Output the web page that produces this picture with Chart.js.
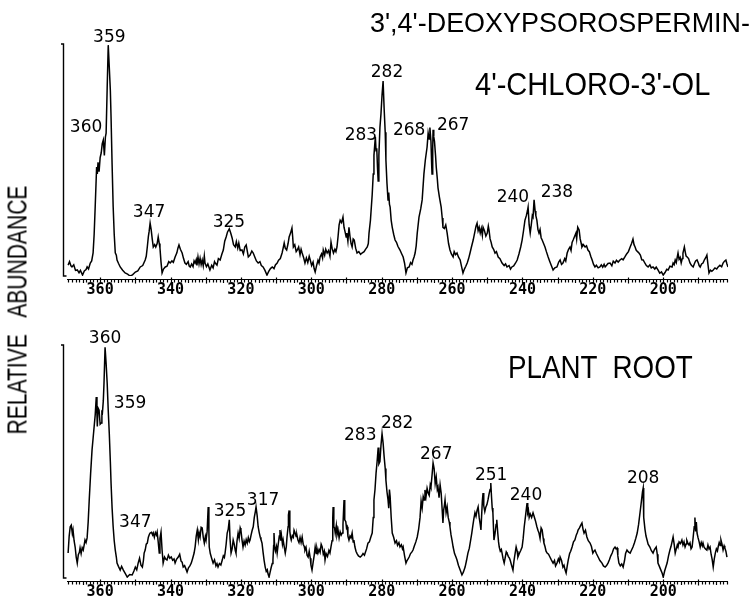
<!DOCTYPE html>
<html><head><meta charset="utf-8">
<script src="https://cdn.jsdelivr.net/npm/chart.js@4.4.1/dist/chart.umd.min.js"></script>
<style>
html,body{margin:0;padding:0;background:#fff;width:754px;height:605px;overflow:hidden;}
#wrap{position:relative;width:754px;height:605px;}
canvas{position:absolute;left:0;}
.t{position:absolute;font-family:"Liberation Sans",Arial,sans-serif;color:#000;white-space:pre;line-height:1;transform-origin:0 0;}
#ylab{position:absolute;left:18px;top:310px;font-family:"Liberation Sans",Arial,sans-serif;font-size:27px;line-height:1;white-space:pre;color:#000;transform:translate(-50%,-50%) rotate(-90deg) scaleX(0.78);}
</style></head><body>
<div id="wrap">
<canvas id="cTop" width="754" height="300" style="top:0"></canvas>
<canvas id="cBot" width="754" height="305" style="top:300px"></canvas>
<div class="t" id="t1" style="left:370px;top:9px;font-size:28px" data-w="380">3',4'-DEOXYPSOROSPERMIN-</div>
<div class="t" id="t2" style="left:475px;top:68px;font-size:32px" data-w="235">4'-CHLORO-3'-OL</div>
<div class="t" id="t3" style="left:508px;top:351px;font-size:32px" data-w="185">PLANT  ROOT</div>
<div id="ylab">RELATIVE   ABUNDANCE</div>
</div>
<script>
// ---- data: [m/z, relative abundance %] ----
const topScan = [
[369.1,4.7],[368.7,6.2],[368.3,4.4],[368.0,3.9],[367.5,4.8],[367.0,2.4],[366.5,2.6],[366.0,1.4],[365.6,2.4],[365.0,0.4],
[364.5,2.2],[364.0,2.8],[363.7,3.9],[363.3,3.0],[362.8,5.6],[362.4,6.5],[362.0,10],[361.7,18],[361.4,30],[361.0,47],
[360.8,44],[360.6,49],[360.3,45],[360.0,51],[359.7,53],[359.4,57],[359.1,58.6],[358.8,52],[358.5,60],[358.3,61.6],
[358.0,81],[357.7,99.5],[357.4,90],[357.1,80],[356.9,68.5],[356.6,48],[356.3,30],[356.0,18],[355.7,10],[355.4,9],
[355.2,6.9],[354.8,5.5],[354.3,3.9],[353.6,2.5],[352.9,1.3],[352.2,0.8],[351.5,0],[350.8,0.5],[350.0,1.7],[349.3,2.2],
[348.6,3.9],[347.9,4.5],[347.2,6.9],[346.9,8.5],[346.6,12.5],[346.3,17],[346.1,19],[345.8,22.8],[345.5,20],[345.2,16],
[344.9,12.5],[344.5,13.5],[344.2,12.5],[343.8,14],[343.5,16.8],[343.2,14],[343.0,12],[342.7,6],[342.4,1.3],[342.0,3],
[341.5,3.9],[341.0,4.2],[340.5,6.2],[340.1,5.6],[339.6,6.5],[339.2,5.9],[338.7,8.2],[338.2,10],[337.9,12],[337.6,13.4],
[337.2,11.5],[336.7,9.9],[336.3,7.5],[335.9,5.6],[335.5,5.0],[335.0,6.2],[334.7,4.3],[334.4,3.9],[334.0,5.2],[333.6,4.0],
[333.3,6.5],[333.0,5.6],[332.7,7.0],[332.5,4.6],[332.2,8.2],[331.9,5.2],[331.6,7.6],[331.3,4.9],[331.0,6.9],[330.7,4.4],
[330.4,8.6],[330.2,5.6],[329.8,4.0],[329.4,5.2],[328.8,2.6],[328.3,4.6],[327.9,3.5],[327.5,6.2],[327.3,5.6],[326.8,4.7],
[326.4,7.5],[325.9,6.9],[325.4,9.5],[325.0,11.2],[324.6,15],[324.2,16.8],[323.8,19],[323.3,20.3],[322.9,18.5],[322.5,16.4],
[322.1,13.5],[321.6,12.5],[321.3,14.8],[320.9,12.0],[320.6,14.2],[320.2,11.0],[319.7,11.2],[319.3,9.5],[318.9,12.5],[318.5,13.4],
[318.2,10.8],[317.9,8.2],[317.4,9.0],[316.9,10.8],[316.5,9.9],[316.0,8.0],[315.6,6.5],[315.1,5.6],[314.6,6.2],[314.2,4.5],
[313.7,3.9],[313.2,2.5],[312.6,0.4],[312.1,2.0],[311.6,3.2],[311.1,3.9],[310.6,3.2],[310.2,4.8],[309.7,5.6],[309.3,6.8],
[308.8,7.5],[308.3,9.9],[308.0,12],[307.7,14.2],[307.4,12],[307.0,11.2],[306.6,14],[306.3,16.8],[305.9,18.5],[305.5,20.7],
[305.3,17],[305.1,12.5],[304.7,13.5],[304.3,10.5],[304.0,11.2],[303.6,12.5],[303.2,9.2],[302.9,11.5],[302.6,9.9],[302.2,8.0],
[301.8,5.6],[301.4,7.8],[301.0,5.8],[300.6,8.5],[300.3,6.9],[299.9,4.5],[299.5,6.0],[299.2,3.2],[298.9,1.7],[298.5,4.5],
[298.1,6.8],[297.8,5.5],[297.5,8.2],[297.1,9.5],[296.8,7.8],[296.6,11.2],[296.2,9.0],[295.9,11.5],[295.5,9.9],[295.1,11.0],
[294.7,8.5],[294.4,14.6],[294.1,12],[293.7,9.9],[293.3,11.5],[293.0,10.5],[292.7,12.5],[292.4,17],[292.1,22],[291.8,24],
[291.4,23],[291.0,25.4],[290.7,21],[290.4,19],[290.1,16.8],[289.9,18.5],[289.6,15],[289.3,21],[289.0,17],[288.7,14],
[288.4,12.5],[288.1,16],[287.8,15.5],[287.4,12],[287.0,9.9],[286.5,10.5],[286.0,9.3],[285.6,9.9],[285.0,10.5],[284.6,11.5],
[284.1,12.5],[283.8,14],[283.6,18.5],[283.2,24],[282.7,35],[282.4,44],[282.2,52],[281.8,60],[281.6,54],[281.4,55],
[281.2,47],[281.0,41],[280.8,52],[280.5,64],[280.2,70],[279.9,78],[279.6,84],[279.3,72],[279.0,62],[278.8,50],
[278.5,40],[278.2,32.8],[278.0,36],[277.8,31],[277.6,29.7],[277.3,24],[277.0,21],[276.6,18],[276.2,15.5],[275.8,14.5],
[275.4,12.8],[274.8,11.2],[274.3,9.5],[273.9,8.2],[273.5,5.5],[273.1,1.3],[272.7,3.5],[272.2,3.9],[271.8,5.8],[271.4,5.0],
[271.1,6.9],[270.8,8.2],[270.5,9.9],[270.2,13],[269.9,18.5],[269.4,25.4],[268.9,29],[268.5,32.8],[268.0,44],[267.6,50],
[267.1,55.6],[266.8,61.6],[266.5,59],[266.3,64],[266.0,58],[265.8,48],[265.7,44],[265.5,55],[265.4,63],[265.2,60],
[265.0,58],[264.7,52],[264.5,47],[264.2,42],[264.0,38],[263.6,34],[263.1,29.7],[262.8,25],[262.6,21],[262.2,20.5],
[261.8,22],[261.4,18.5],[261.0,14],[260.6,11.2],[260.2,9.5],[259.7,8.2],[259.4,10.5],[259.0,9.2],[258.6,9.9],[258.2,8.2],
[257.7,6.9],[257.3,4.0],[256.9,1.3],[256.5,3.0],[256.1,4.2],[255.7,5.6],[255.3,7.5],[254.9,9.9],[254.5,12.5],[254.0,15.5],
[253.6,18.5],[253.2,21.5],[252.9,22.8],[252.6,19.5],[252.3,21.0],[252.0,18.5],[251.7,20.5],[251.4,17.5],[251.2,21],[250.8,19.5],
[250.4,17.2],[250.0,18.5],[249.7,21.5],[249.5,19.8],[249.2,16],[248.9,14.5],[248.6,12.5],[248.2,11.5],[247.8,9.9],[247.4,10.5],
[246.9,8.2],[246.4,7.5],[245.8,5.6],[245.2,4.5],[244.8,5.2],[244.4,3.9],[243.8,4.5],[243.4,3.0],[243.0,3.9],[242.5,4.3],
[242.0,5.5],[241.5,6.9],[241.0,9.5],[240.5,12.5],[240.1,15.5],[239.7,19.5],[239.3,24],[238.9,26],[238.6,28],[238.4,29.7],
[238.1,22],[237.8,18.5],[237.5,22],[237.2,26],[237.0,25.4],[236.7,32.8],[236.4,28],[236.2,26],[235.9,24],[235.6,20],
[235.3,18.5],[235.0,20],[234.7,16.5],[234.4,15.5],[234.0,14],[233.6,12.5],[233.2,10.5],[232.7,8.2],[232.3,6.5],[231.8,4.5],
[231.3,2.6],[230.8,3.5],[230.2,3.9],[229.7,6.0],[229.3,6.9],[228.9,5.0],[228.5,5.6],[228.0,7.5],[227.7,6.5],[227.3,9.9],
[226.9,11.5],[226.5,12.5],[226.2,11.0],[225.9,14.5],[225.6,15.5],[225.2,17],[224.8,18.5],[224.6,16],[224.3,21],[223.9,19.8],
[223.6,16],[223.3,14],[223.1,12.5],[222.7,13.5],[222.2,12.5],[221.8,13.0],[221.4,11.2],[221.0,10.5],[220.6,8.5],[220.2,6.9],
[219.8,5.0],[219.4,3.9],[219.0,4.6],[218.5,3.5],[218.0,3.9],[217.6,4.8],[217.2,3.8],[216.8,5.0],[216.5,3.9],[216.1,4.6],
[215.7,5.4],[215.1,5.6],[214.6,4.4],[214.2,6.4],[213.7,5.6],[213.3,6.8],[212.8,6.0],[212.3,6.9],[211.8,7.5],[211.4,7.0],
[210.9,8.2],[210.4,9.5],[209.9,10.5],[209.4,12.5],[209.0,14],[208.6,15.9],[208.3,13.5],[208.0,12.5],[207.7,11.2],[207.3,10.5],
[206.9,9.9],[206.5,9.0],[206.1,7.0],[205.7,6.9],[205.2,5.5],[204.8,4.5],[204.3,3.9],[203.8,4.8],[203.4,3.5],[202.9,3.9],
[202.4,3.0],[202.0,3.8],[201.5,2.6],[201.0,1.2],[200.5,1.8],[200.0,0.4],[199.5,1.5],[199.0,2.9],[198.6,2.6],[198.1,4.2],
[197.5,3.9],[197.2,5.6],[196.9,4.9],[196.6,6.9],[196.3,5.8],[196.0,8.3],[195.8,9.9],[195.5,7.2],[195.2,8.0],[194.9,5.6],
[194.6,7.5],[194.4,9.9],[194.0,12.5],[193.7,10.0],[193.5,8.6],[193.2,8.2],[192.8,7.5],[192.4,5.6],[192.0,4.6],[191.5,3.9],
[191.1,5.5],[190.8,6.5],[190.4,6.9],[190.0,5.5],[189.8,4.5],[189.5,3.9],[189.1,5.2],[188.7,5.6],[188.3,7.0],[187.9,8.0],
[187.6,9],[187.3,5.0],[187.0,1.3],[186.6,2.5],[186.2,2.0],[185.8,2.6],[185.3,3.5],[184.8,3.0],[184.4,3.9],[183.9,4.6],
[183.4,4.0],[183.0,5.6],[182.6,6.4],[182.2,6.9],[181.9,5.2],[181.6,3.9]
];
const rootScan = [
[369.1,10.7],[368.8,18],[368.5,22],[368.2,22.7],[367.9,19],[367.7,20.6],[367.4,16],[367.1,13.3],[366.8,9],[366.5,6.4],
[366.2,10],[365.9,11],[365.7,12.9],[365.4,10.5],[365.1,13],[364.8,12],[364.5,14.5],[364.3,16.3],[364.0,15.2],[363.7,17.2],
[363.4,24],[363.1,33.5],[362.7,45],[362.3,55],[362.0,60],[361.7,65],[361.4,70],[361.1,77.7],[360.9,70],[360.8,65],
[360.6,73],[360.3,72],[360.0,66],[359.7,66.5],[359.5,72],[359.4,70],[359.1,76],[358.9,83.7],[358.6,99],[358.3,92],
[358.0,83.7],[357.7,72],[357.4,62],[357.1,50],[356.9,40.8],[356.6,30],[356.3,22],[356.0,16],[355.7,12],[355.4,9],
[355.2,6.4],[354.8,5],[354.3,3.4],[353.9,5],[353.4,3.4],[352.8,1.8],[352.3,0.4],[351.6,1.5],[350.9,1.3],[350.4,3.0],
[350.0,4.7],[349.6,3.5],[349.2,6.4],[348.8,8.5],[348.4,5.5],[348.0,4.7],[347.7,7.5],[347.5,10.7],[347.2,12],[346.9,14.5],
[346.6,15],[346.3,17.5],[346.0,18.8],[345.8,19.3],[345.4,19.6],[345.1,18.5],[344.9,19.3],[344.6,17.5],[344.3,19.5],[344.0,18.5],
[343.8,19.7],[343.5,15.5],[343.2,10.7],[343.0,17],[342.7,19.7],[342.4,12],[342.1,6.4],[341.7,9.0],[341.4,8.2],[341.0,7.7],
[340.6,9.8],[340.2,8.5],[339.8,9],[339.4,7.6],[339.0,8.2],[338.7,6.4],[338.3,8.0],[337.8,9],[337.4,10.2],[337.0,7.2],
[336.7,6.8],[336.4,4.7],[336.0,5.3],[335.6,3.8],[335.3,2.6],[334.9,4.4],[334.5,5.2],[334.1,6.4],[333.7,8.5],[333.3,10.7],
[333.0,13.5],[332.7,18],[332.4,20.6],[332.1,16.5],[331.9,19.5],[331.6,17.6],[331.3,21.8],[331.0,21.5],[330.7,17.5],[330.4,15],
[330.1,17.8],[329.9,16.3],[329.6,20],[329.3,30.5],[329.1,20],[329.0,13.3],[328.7,10.5],[328.3,8.4],[327.9,6.4],[327.5,7.8],
[327.1,5.2],[326.8,6.2],[326.5,4.7],[326.1,6.2],[325.7,5.6],[325.3,7.7],[325.0,9.5],[324.7,8.8],[324.5,10.7],[324.2,14.5],
[323.9,19.3],[323.6,21],[323.3,25],[323.1,17],[322.8,10.7],[322.5,12.5],[322.2,16.3],[321.9,14.5],[321.6,11.8],[321.4,10.7],
[321.1,16],[320.8,19.3],[320.5,17],[320.2,21.5],[320.0,20.6],[319.7,16.5],[319.4,13.3],[319.1,15.8],[318.8,14.2],[318.5,16.5],
[318.2,15],[317.9,17.3],[317.6,15.6],[317.4,16.3],[317.1,18.5],[316.8,20.5],[316.5,22],[316.2,26],[315.9,28.5],[315.7,30.5],
[315.4,27],[315.1,22],[314.8,19.5],[314.5,17.5],[314.3,16.5],[314.0,15],[313.7,11],[313.4,7.5],[313.1,4.7],[312.8,2.8],
[312.5,3.5],[312.3,1.8],[312.0,0.4],[311.7,2.5],[311.4,4.5],[311.1,6.2],[310.9,7.7],[310.7,14],[310.6,19.3],[310.4,13],
[310.2,11.5],[309.9,13.5],[309.7,10.7],[309.4,14.5],[309.1,18],[308.9,20.6],[308.7,16],[308.5,18.5],[308.2,14.5],[308.0,16.3],
[307.7,13.5],[307.4,10.7],[307.1,13.5],[306.9,17.6],[306.6,22],[306.5,27],[306.3,29],[306.1,20],[305.9,17.5],[305.7,16.3],
[305.4,18.2],[305.1,17.5],[304.9,20.5],[304.6,19.3],[304.3,17.8],[304.1,18.5],[303.8,16.3],[303.5,15.2],[303.2,17.4],[302.9,15.2],
[302.6,17.6],[302.3,14.5],[302.0,13.5],[301.8,12],[301.5,13.2],[301.2,9.8],[300.9,9],[300.6,11.5],[300.3,8.5],[300.1,5.5],
[299.8,3.4],[299.5,6.5],[299.2,9.5],[298.9,13.3],[298.6,10.5],[298.4,12.8],[298.1,10.7],[297.8,12.2],[297.5,11.0],[297.2,14.5],
[296.9,13.3],[296.6,10.2],[296.3,11.5],[296.1,7.7],[295.8,10.5],[295.4,9.2],[295.0,11.8],[294.7,10.7],[294.4,13.5],[294.1,16],
[293.9,26],[293.8,30.5],[293.6,22],[293.4,21.5],[293.2,19.3],[292.9,22.5],[292.7,18.5],[292.4,20.6],[292.1,17.2],[291.8,19.8],
[291.5,18.4],[291.2,19.3],[291.0,23],[290.8,30],[290.7,33.5],[290.5,25],[290.2,24.2],[290.0,21.5],[289.8,22],[289.6,18],
[289.3,16.3],[289.0,18],[288.7,17.2],[288.4,19.3],[288.1,15.5],[287.9,16.3],[287.6,13.3],[287.3,11.5],[287.0,10.5],[286.6,9.5],
[286.1,9],[285.7,9.5],[285.3,10.5],[284.9,9.8],[284.7,10.7],[284.3,12.5],[283.9,15],[283.5,15.5],[283.1,17.5],[282.7,19.3],
[282.4,26],[282.2,33.5],[281.9,38],[281.6,45],[281.3,50],[281.0,56],[280.8,49],[280.5,50],[280.2,57],[279.9,62],
[279.6,58],[279.3,52],[279.0,47],[278.8,42],[278.5,37],[278.2,33.5],[278.0,30],[277.8,38],[277.6,35],[277.3,26],
[277.0,19.3],[276.6,17.5],[276.2,15],[275.8,16],[275.5,14],[275.1,15.2],[274.8,13.3],[274.4,14.2],[274.1,12.5],[273.9,13.3],
[273.5,9.5],[273.1,6.4],[272.8,7.5],[272.5,8.2],[272.2,9],[271.8,10.5],[271.4,11.2],[271.1,12],[270.7,13.8],[270.3,15.5],
[269.9,17.6],[269.5,21],[269.1,26],[268.8,33],[268.5,30],[268.2,35],[267.9,33.5],[267.7,37.8],[267.4,35],[267.1,38.5],
[266.8,36.5],[266.5,35.5],[266.2,40],[266.0,39],[265.7,44],[265.4,49.4],[265.1,47],[264.8,40.5],[264.5,43.3],[264.2,38],
[264.0,39],[263.7,34.5],[263.4,40],[263.1,36.5],[262.8,29],[262.6,23.6],[262.4,29],[262.2,31],[262.0,33.5],[261.7,28],
[261.4,30.5],[261.1,26],[260.8,24],[260.6,22],[260.3,18.5],[260.0,16],[259.7,13.3],[259.3,10.5],[258.9,9],[258.6,7.7],
[258.2,5.5],[257.7,3.4],[257.2,1.3],[256.8,2.5],[256.3,4.7],[255.9,7.5],[255.5,10.7],[255.1,12.8],[254.7,16.5],[254.4,19.3],
[254.1,22.5],[253.8,25.5],[253.5,28],[253.2,26.5],[252.9,29],[252.6,30.5],[252.3,26],[252.0,23],[251.8,20.6],[251.6,27],
[251.4,33],[251.2,36.5],[251.0,31],[250.7,28.5],[250.4,30.5],[250.1,31.5],[249.8,33.5],[249.5,36],[249.2,38],[249.0,40.8],
[248.8,35],[248.6,30],[248.4,28],[248.2,20],[248.1,16.3],[247.8,19],[247.5,23],[247.3,25],[247.0,19],[246.8,15.5],
[246.6,13.3],[246.3,11.5],[246.0,12.2],[245.8,10.7],[245.5,8.2],[245.2,6.4],[244.9,8.8],[244.6,11.2],[244.4,10.7],[244.0,9.2],
[243.7,8.5],[243.5,7.7],[243.1,5.5],[242.7,3.4],[242.4,7.5],[242.1,10.5],[241.8,13.3],[241.5,11.5],[241.3,9],[240.9,10.5],
[240.5,11.8],[240.1,13.3],[239.8,17],[239.5,22],[239.1,27],[238.7,32.2],[238.5,28],[238.3,29],[238.1,26],[237.8,27.5],
[237.4,26],[237.0,28],[236.7,26.5],[236.3,24.5],[235.9,22],[235.6,20.5],[235.3,19.3],[235.0,17],[234.7,21.5],[234.4,20.6],
[234.1,17],[233.9,15],[233.6,13.5],[233.3,11.5],[233.0,10.7],[232.6,10.2],[232.2,9],[231.8,7.8],[231.3,6.4],[230.9,7.5],
[230.6,5.2],[230.2,6.4],[229.8,8.2],[229.5,7.0],[229.3,9],[228.9,7.5],[228.5,4.7],[228.2,5.5],[227.9,3.5],[227.6,2.1],
[227.3,5.0],[227.0,7.7],[226.6,10.5],[226.3,11.5],[225.9,13.3],[225.5,15.5],[225.1,16.3],[224.7,18.5],[224.4,19.5],[224.2,20.6],
[223.8,21.5],[223.5,22.5],[223.1,23.6],[222.8,21],[222.5,19.3],[222.1,20.5],[221.7,17.6],[221.3,16],[220.8,15],[220.4,13.5],
[220.0,10.7],[219.7,11.5],[219.4,12],[219.0,10.5],[218.5,9],[218.0,7.5],[217.4,6.4],[217.0,5.2],[216.5,4.7],[216.1,5.3],
[215.7,6.4],[215.3,7.8],[214.9,9.5],[214.5,10.7],[214.1,12.5],[213.7,13.3],[213.4,12.5],[213.1,12.9],[212.9,9.5],[212.6,6.4],
[212.2,5.2],[211.8,6.0],[211.4,4.7],[211.0,7.5],[210.7,10.5],[210.3,12],[209.9,11.2],[209.4,10.7],[209.0,12],[208.6,13.3],
[208.2,15],[207.8,17],[207.4,19.3],[207.0,23],[206.6,28],[206.2,33],[205.9,37],[205.7,38.6],[205.6,32],[205.5,26],
[205.2,21],[204.9,18],[204.6,16.3],[204.3,14.5],[203.8,13.3],[203.4,11.8],[202.9,10.7],[202.5,12.2],[202.0,13.3],[201.7,10.2],
[201.5,6.4],[201.1,5.0],[200.7,3.5],[200.3,2.0],[200.0,0.4],[199.6,3.0],[199.3,4.5],[198.9,6.4],[198.5,9.5],[198.1,12],
[197.8,13.5],[197.5,15.5],[197.2,17.6],[196.9,14.5],[196.6,10.7],[196.3,12.5],[196.0,14.2],[195.8,13.3],[195.5,15.5],[195.1,14.8],
[194.7,16.3],[194.4,14.2],[194.1,15.5],[193.8,13.3],[193.5,14.6],[193.3,16.2],[193.0,15],[192.7,14.2],[192.4,15.1],[192.1,12.5],
[191.8,13.3],[191.5,17.5],[191.2,22],[191.0,26],[190.8,20],[190.6,24],[190.4,19.3],[190.1,17.2],[189.8,15.5],[189.5,13.3],
[189.2,15.2],[188.9,13.8],[188.7,15],[188.4,13.2],[188.0,12.5],[187.6,12],[187.3,14.2],[187.0,12.5],[186.7,13.3],[186.4,10.2],
[186.1,8.0],[185.8,4.7],[185.5,8.2],[185.2,10.7],[184.9,12.5],[184.6,11.6],[184.4,13.3],[184.1,15.2],[183.8,14.0],[183.6,16.3],
[183.3,14.5],[183.0,12],[182.7,13.8],[182.5,12.9],[182.2,11.5],[181.9,9]
];

const tickValues = [360,340,320,300,280,260,240,220,200];
const tickLabels = ['360','340','320','300','280','260','240','220','200'];

// peak annotations: text, anchor m/z, anchor abundance (text baseline)
const topPeakText = ['359','360','347','325','283','282','268','267','240','238'];
const topPeakMz   = [357.4,364.0,346.1,323.4,285.9,278.5,272.2,259.7,242.7,230.2];
const topPeakAb   = [100.9,62,25.4,21.1,58.6,85.8,60.8,62.9,31.9,34.1];
const botPeakText = ['360','359','347','325','317','283','282','267','251','240','208'];
const botPeakMz   = [358.6,351.5,350.0,323.1,313.7,286.1,275.6,264.5,248.9,239.0,205.7];
const botPeakAb   = [100.9,73,21.9,26.6,31.3,59.2,64.4,51,42,33.5,40.8];

const X_MIN = 181.6, X_MAX = 369.7;

const decor = {
  id:'decor',
  afterDraw(chart){
    const {ctx, chartArea:a} = chart;
    const x = chart.scales.x, y = chart.scales.y;
    ctx.save();
    ctx.strokeStyle = '#000';
    ctx.lineWidth = 1.4;
    const bx = a.left - 2.5;
    ctx.beginPath();
    ctx.moveTo(bx - 2.5, a.top); ctx.lineTo(bx, a.top); ctx.lineTo(bx, a.bottom); ctx.lineTo(bx + 3, a.bottom);
    ctx.stroke();
    const ry = a.bottom + 3.5;
    ctx.lineWidth = 1.2;
    ctx.beginPath();
    ctx.moveTo(a.left + 1, ry); ctx.lineTo(a.right, ry);
    for (let m = Math.ceil(X_MIN); m <= Math.floor(X_MAX); m++) {
      const px = Math.round(x.getPixelForValue(m)) + 0.5;
      if (m % 10 === 0) { ctx.moveTo(px, ry - 2); ctx.lineTo(px, ry + 4); }
      else if (m % 5 === 0) { ctx.moveTo(px, ry); ctx.lineTo(px, ry + 3.5); }
      else { ctx.moveTo(px, ry); ctx.lineTo(px, ry + 3); }
    }
    ctx.stroke();
    const o = chart.options.plugins.decor;
    ctx.fillStyle = '#000';
    ctx.font = '17px "DejaVu Sans", sans-serif';
    ctx.textAlign = 'center';
    ctx.textBaseline = 'alphabetic';
    o.text.forEach((t, i) => {
      ctx.fillText(t, x.getPixelForValue(o.mz[i]), y.getPixelForValue(o.ab[i]));
    });
    ctx.restore();
  }
};

function makeChart(id, scan, padTop, axisH, txt, pmz, pab) {
  return new Chart(document.getElementById(id), {
    type: 'line',
    data: { datasets: [{ data: scan.map(p => ({x: p[0], y: p[1]})), borderColor: '#000', borderWidth: 1.5, pointRadius: 0, tension: 0, fill: false }] },
    options: {
      responsive: false, animation: false, events: [],
      layout: { padding: { left: 66, right: 26, top: padTop, bottom: 0 } },
      plugins: { legend: { display: false }, tooltip: { enabled: false }, title: { display: false },
        decor: { text: txt, mz: pmz, ab: pab } },
      scales: {
        x: { type: 'linear', reverse: true, min: X_MIN, max: X_MAX,
          grid: { display: false, drawTicks: false }, border: { display: false },
          afterBuildTicks: s => { s.ticks = tickValues.map(v => ({ value: v })); },
          afterFit: s => { s.height = axisH; },
          ticks: { autoSkip: false, maxRotation: 0, padding: 5, color: '#000',
            font: { family: '"DejaVu Sans Mono", monospace', size: 15, weight: 'bold' },
            callback: (v, i) => tickLabels[i] } },
        y: { display: false, min: 0, max: 100 }
      }
    },
    plugins: [decor]
  });
}

makeChart('cTop', topScan, 44, 24, topPeakText, topPeakMz, topPeakAb);
makeChart('cBot', rootScan, 45, 27, botPeakText, botPeakMz, botPeakAb);

document.querySelectorAll('.t').forEach(el => {
  const w = parseFloat(el.dataset.w);
  el.style.transform = 'scaleX(' + (w / el.offsetWidth) + ')';
});
</script>
</body></html>
